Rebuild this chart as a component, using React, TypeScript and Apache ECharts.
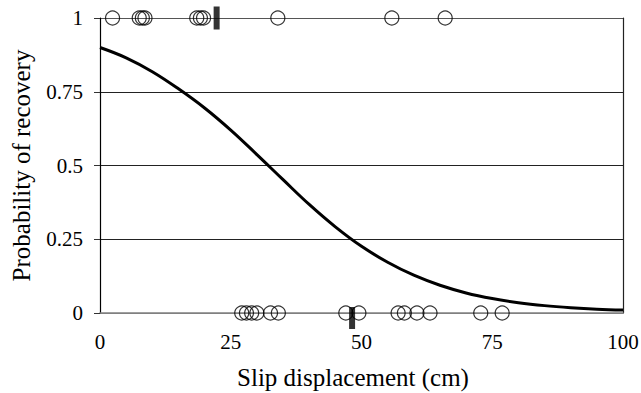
import React, { useEffect, useRef } from "react";
import * as echarts from "echarts";

const curveX = [0, 5, 10, 15, 20, 25, 30, 35, 40, 45, 50, 55, 60, 65, 70, 75, 80, 85, 90, 95, 100];
const curveY = [0.9, 0.865, 0.818, 0.76, 0.695, 0.62, 0.537, 0.452, 0.368, 0.292, 0.226, 0.172, 0.128, 0.094, 0.068, 0.049, 0.035, 0.025, 0.018, 0.013, 0.01];

const recoveredX = [2.4, 7.5, 8.1, 8.6, 18.5, 19.2, 19.8, 34.0, 55.8, 66.0];
const notRecoveredX = [27.1, 28.0, 29.0, 30.0, 32.6, 34.1, 47.0, 49.5, 57.0, 58.2, 60.6, 63.1, 72.8, 76.9];
const meanRecovered = 22.3;
const meanNotRecovered = 48.2;

const yTicks = [0, 0.25, 0.5, 0.75, 1];
const yTickLabels = ["0", "0.25", "0.5", "0.75", "1"];

const FONT = "Liberation Serif";

export default function App() {
  const ref = useRef<HTMLDivElement>(null);
  useEffect(() => {
    if (!ref.current) return;
    const chart = echarts.init(ref.current, undefined, { renderer: "svg" });
    const circleStyle = {
      color: "transparent",
      borderColor: "#000",
      borderWidth: 1.2,
    };
    chart.setOption({
      animation: false,
      backgroundColor: "#fff",
      textStyle: { fontFamily: FONT },
      grid: { left: 100, right: 18, top: 18, bottom: 80, containLabel: false, outerBoundsMode: "none" },
      xAxis: {
        type: "value",
        min: 0,
        max: 100,
        interval: 25,
        name: "Slip displacement (cm)",
        nameLocation: "middle",
        nameGap: 52,
        nameTextStyle: { fontFamily: FONT, fontSize: 25, color: "#000", padding: [0, 17, 0, 0] },
        axisLine: { show: true, lineStyle: { color: "#808080", width: 1.5 } },
        axisTick: { show: false },
        axisLabel: { fontFamily: FONT, fontSize: 21, color: "#000", margin: 18 },
        splitLine: { show: false },
      },
      yAxis: [
        {
          type: "value",
          min: 0,
          max: 1,
          interval: 0.25,
          name: "Probability of recovery",
          nameLocation: "middle",
          nameGap: 66,
          nameTextStyle: { fontFamily: FONT, fontSize: 25, color: "#000" },
          axisLine: { show: true, lineStyle: { color: "#000", width: 1.2 } },
          axisTick: { show: true, inside: false, length: 6, lineStyle: { color: "#333" } },
          axisLabel: {
            fontFamily: FONT,
            fontSize: 21,
            color: "#000",
            margin: 17,
            formatter: (v: number) => {
              const i = yTicks.findIndex((t) => Math.abs(t - v) < 1e-9);
              return i >= 0 ? yTickLabels[i] : "";
            },
          },
          splitLine: {
            show: true,
            lineStyle: { color: ["#808080", "#222", "#222", "#222", "#555"], width: 1 },
          },
        },
        {
          type: "value",
          min: 0,
          max: 1,
          interval: 0.25,
          position: "right",
          axisLine: { show: true, lineStyle: { color: "#222", width: 1.2 } },
          axisTick: { show: false },
          axisLabel: { show: false },
          splitLine: { show: false },
        },
      ],
      series: [
        {
          type: "scatter",
          clip: false,
          symbol: "circle",
          symbolSize: 14,
          itemStyle: circleStyle,
          data: recoveredX.map((x) => [x, 1]),
          z: 3,
        },
        {
          type: "scatter",
          clip: false,
          symbol: "circle",
          symbolSize: 14,
          itemStyle: circleStyle,
          data: notRecoveredX.map((x) => [x, 0]),
          z: 3,
        },
        {
          type: "scatter",
          clip: false,
          symbol: "rect",
          symbolSize: [6, 23],
          itemStyle: { color: "#000" },
          data: [[meanRecovered, 1]],
          z: 4,
        },
        {
          type: "scatter",
          clip: false,
          symbol: "rect",
          symbolSize: [6, 22],
          symbolOffset: [0, 5],
          itemStyle: { color: "#000" },
          data: [[meanNotRecovered, 0]],
          z: 4,
        },
        {
          type: "line",
          smooth: 0.4,
          showSymbol: false,
          symbol: "none",
          clip: false,
          lineStyle: { color: "#000", width: 3 },
          data: curveX.map((x, i) => [x, curveY[i]]),
          z: 5,
        },
      ],
    });
    return () => chart.dispose();
  }, []);
  return (
    <div
      ref={ref}
      style={{ position: "fixed", left: 0, top: 0, width: 641, height: 393 }}
    />
  );
}
